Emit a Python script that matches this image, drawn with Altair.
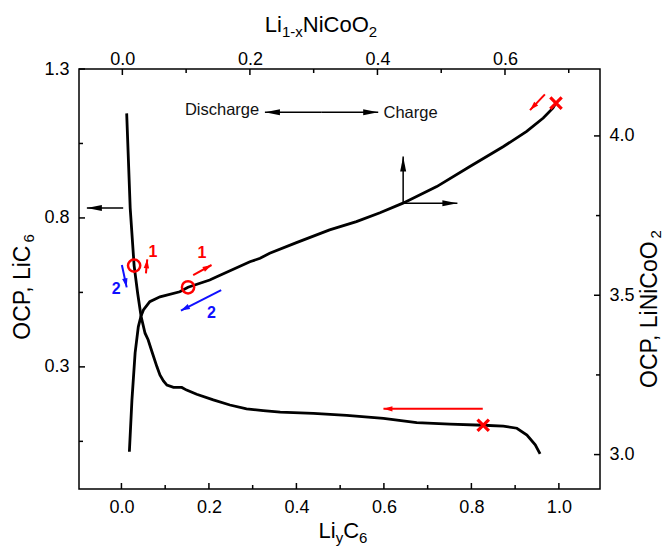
import math
import altair as alt
import pandas as pd

# ---------------- data ----------------
# Negative electrode OCP (LiyC6, bottom x / left y)
anode_x = [0.012, 0.020, 0.029, 0.037, 0.045, 0.054, 0.061, 0.070, 0.081, 0.088, 0.096,
           0.104, 0.119, 0.138, 0.149, 0.172, 0.210, 0.248, 0.286, 0.324, 0.363, 0.439,
           0.515, 0.599, 0.675, 0.751, 0.827, 0.873, 0.904, 0.927, 0.946, 0.957]
anode_y = [1.151, 0.834, 0.640, 0.548, 0.469, 0.413, 0.391, 0.350, 0.301, 0.273, 0.253,
           0.239, 0.231, 0.231, 0.222, 0.208, 0.189, 0.172, 0.159, 0.153, 0.148, 0.144,
           0.137, 0.127, 0.113, 0.108, 0.104, 0.101, 0.094, 0.071, 0.038, 0.008]

# Positive electrode OCP (Li1-xNiCoO2, top x / right y)
cathode_x = [0.011, 0.015, 0.020, 0.025, 0.029, 0.033, 0.043, 0.059, 0.090, 0.103, 0.137,
             0.148, 0.200, 0.216, 0.231, 0.273, 0.325, 0.367, 0.404, 0.440, 0.493, 0.545,
             0.597, 0.634, 0.660, 0.675, 0.680]
cathode_y = [3.009, 3.171, 3.319, 3.401, 3.433, 3.454, 3.480, 3.495, 3.511, 3.525, 3.548,
             3.558, 3.605, 3.616, 3.632, 3.665, 3.705, 3.731, 3.759, 3.789, 3.841, 3.904,
             3.966, 4.014, 4.056, 4.087, 4.103]

# tick values
xb_major = [0.0, 0.2, 0.4, 0.6, 0.8, 1.0]
xb_minor = [0.1, 0.3, 0.5, 0.7, 0.9]
yl_major = [0.3, 0.8, 1.3]
yl_minor = [0.05, 0.55, 1.05]
xt_major = [0.0, 0.2, 0.4, 0.6]
xt_minor = [0.1, 0.3, 0.5, 0.7]
yr_major = [3.0, 3.5, 4.0]
yr_minor = [3.25, 3.75]

# markers
anode_circle_x, anode_circle_y = [0.029], [0.640]
anode_cross_x, anode_cross_y = [0.827], [0.104]
cathode_circle_x, cathode_circle_y = [0.103], [3.525]
cathode_cross_x, cathode_cross_y = [0.680], [4.103]

# annotation arrows (tail -> tip) in LiyC6 / OCP LiC6 coordinates
black_x1 = [0.458, 0.458, 0.004, 0.644, 0.644]
black_y1 = [1.155, 1.155, 0.833, 0.849, 0.849]
black_x2 = [0.328, 0.587, -0.079, 0.644, 0.768]
black_y2 = [1.155, 1.155, 0.833, 1.006, 0.849]

red_x1 = [0.968, 0.826, 0.056, 0.164]
red_y1 = [1.215, 0.159, 0.614, 0.608]
red_x2 = [0.934, 0.599, 0.059, 0.206]
red_y2 = [1.162, 0.159, 0.661, 0.642]

blue_x1 = [0.001, 0.228]
blue_y1 = [0.642, 0.558]
blue_x2 = [0.012, 0.136]
blue_y2 = [0.567, 0.489]

red_lab_x, red_lab_y, red_lab_t = [0.072, 0.184], [0.687, 0.681], ["1", "1"]
blue_lab_x, blue_lab_y, blue_lab_t = [-0.012, 0.206], [0.560, 0.480], ["2", "2"]

note_text = ["Discharge", "Charge"]
note_x = [0.315, 0.599]
note_y = [1.161, 1.151]

# ---------------- layout ----------------
W, H = 521, 420
XB = [-0.097, 1.094]
YL = [-0.11, 1.30]
XT = [-0.068, 0.749]
YR = [2.892, 4.210]
FONT = "Liberation Sans"
RED = "#ff0000"
BLUE = "#1010ff"

sx = W / (XB[1] - XB[0])
sy = H / (YL[1] - YL[0])

xb = alt.Scale(domain=XB, nice=False, zero=False)
yl = alt.Scale(domain=YL, nice=False, zero=False)
xt = alt.Scale(domain=XT, nice=False, zero=False)
yr = alt.Scale(domain=YR, nice=False, zero=False)

lab = dict(ticks=False, domain=False, grid=False, format=".1f",
           labelFont=FONT, labelFontSize=18, labelColor="black", labelFlush=False)
ax_bottom = alt.Axis(orient="bottom", values=xb_major, labelPadding=9, title="", **lab)
ax_left = alt.Axis(orient="left", values=yl_major, labelPadding=10, title="", **lab)
ax_top = alt.Axis(orient="top", values=xt_major, labelPadding=1, title="", **lab)
ax_right = alt.Axis(orient="right", values=yr_major, labelPadding=9, title="", **lab)

one = pd.DataFrame({"k": [0]})


def head_angle(x1, y1, x2, y2):
    dx = (x2 - x1) * sx
    dy = -(y2 - y1) * sy
    return math.degrees(math.atan2(dx, -dy)) % 360


def arrows(x1, y1, x2, y2, color, width, head_path, head_size):
    df = pd.DataFrame({"x1": x1, "y1": y1, "x2": x2, "y2": y2})
    df["ang"] = [head_angle(a, b, c, d) for a, b, c, d in zip(x1, y1, x2, y2)]
    shaft = alt.Chart(df).mark_rule(color=color, strokeWidth=width).encode(
        x=alt.X("x1:Q", scale=xb, axis=None), y=alt.Y("y1:Q", scale=yl, axis=None),
        x2="x2:Q", y2="y2:Q")
    head = alt.Chart(df).mark_point(shape=head_path, filled=True, color=color, size=head_size,
                                    opacity=1, strokeWidth=0).encode(
        x=alt.X("x2:Q", scale=xb, axis=None), y=alt.Y("y2:Q", scale=yl, axis=None),
        angle=alt.Angle("ang:Q", scale=None))
    return [shaft, head]


def ticks(vals, scale, side, length):
    df = pd.DataFrame({"v": vals})
    m = alt.Chart(df).mark_rule(color="black", strokeWidth=1.5)
    if side == "bottom":
        return m.encode(x=alt.X("v:Q", scale=scale, axis=None), y=alt.value(H), y2=alt.value(H - length))
    if side == "top":
        return m.encode(x=alt.X("v:Q", scale=scale, axis=None), y=alt.value(0), y2=alt.value(length))
    if side == "left":
        return m.encode(y=alt.Y("v:Q", scale=scale, axis=None), x=alt.value(0), x2=alt.value(length))
    return m.encode(y=alt.Y("v:Q", scale=scale, axis=None), x=alt.value(W), x2=alt.value(W - length))


AW = {'L': 0.556, 'i': 0.222, 'y': 0.5, 'C': 0.722, '6': 0.556, '1': 0.556, '-': 0.333,
      'x': 0.5, 'N': 0.722, 'o': 0.556, 'O': 0.778, '2': 0.556, 'P': 0.667, ',': 0.278, ' ': 0.278}


def tw(s, size):
    return sum(AW[c] for c in s) * size


def title_layers(pieces, center, base, vertical, F=22, f=15, shift=5):
    total = sum(tw(t, f if sub else F) for t, sub in pieces)
    out, pos = [], 0.0
    for t, sub in pieces:
        size = f if sub else F
        if vertical:
            enc = dict(x=alt.value(base + (shift if sub else 0)), y=alt.value(center + total / 2 - pos))
            ang = 270
        else:
            enc = dict(x=alt.value(center - total / 2 + pos), y=alt.value(base + (shift if sub else 0)))
            ang = 0
        out.append(alt.Chart(one).mark_text(text=t, fontSize=size, font=FONT, align="left",
                                            baseline="alphabetic", angle=ang, color="black").encode(**enc))
        pos += tw(t, size)
    return out


BIG_HEAD = "M0,0L-0.4,2L0.4,2Z"
SMALL_HEAD = "M0,0L-0.6,2L0.6,2Z"
XSHAPE = "M-1,-1L1,1M1,-1L-1,1"

# ---------------- LiyC6 layers ----------------
df_a = pd.DataFrame({"x": anode_x, "y": anode_y, "i": range(len(anode_x))})
anode_line = alt.Chart(df_a).mark_line(color="black", strokeWidth=2.8).encode(
    x=alt.X("x:Q", scale=xb, axis=ax_bottom), y=alt.Y("y:Q", scale=yl, axis=ax_left),
    order="i:Q")

layers = [anode_line,
          ticks(xb_major, xb, "bottom", 6), ticks(xb_minor, xb, "bottom", 4),
          ticks(yl_major, yl, "left", 6), ticks(yl_minor, yl, "left", 4)]
layers += arrows(black_x1, black_y1, black_x2, black_y2, "black", 1.5, BIG_HEAD, 225)
layers += arrows(red_x1, red_y1, red_x2, red_y2, RED, 2, SMALL_HEAD, 81)
layers += arrows(blue_x1, blue_y1, blue_x2, blue_y2, BLUE, 2, SMALL_HEAD, 81)

for i, al in enumerate(["right", "left"]):
    layers.append(alt.Chart(pd.DataFrame({"x": [note_x[i]], "y": [note_y[i]], "t": [note_text[i]]})).mark_text(
        font=FONT, fontSize=16.5, color="#111111", align=al, baseline="middle").encode(
        x=alt.X("x:Q", scale=xb, axis=None), y=alt.Y("y:Q", scale=yl, axis=None), text="t:N"))

for lx, ly, lt, col in [(red_lab_x, red_lab_y, red_lab_t, RED), (blue_lab_x, blue_lab_y, blue_lab_t, BLUE)]:
    layers.append(alt.Chart(pd.DataFrame({"x": lx, "y": ly, "t": lt})).mark_text(
        font=FONT, fontSize=16, fontWeight="bold", color=col, align="center", baseline="middle").encode(
        x=alt.X("x:Q", scale=xb, axis=None), y=alt.Y("y:Q", scale=yl, axis=None), text="t:N"))

layers.append(alt.Chart(pd.DataFrame({"x": anode_circle_x, "y": anode_circle_y})).mark_point(
    shape="circle", filled=False, color=RED, strokeWidth=2.5, size=150, opacity=1).encode(
    x=alt.X("x:Q", scale=xb, axis=None), y=alt.Y("y:Q", scale=yl, axis=None)))
layers.append(alt.Chart(pd.DataFrame({"x": anode_cross_x, "y": anode_cross_y})).mark_point(
    shape=XSHAPE, filled=False, color=RED, strokeWidth=3.2, size=130, opacity=1).encode(
    x=alt.X("x:Q", scale=xb, axis=None), y=alt.Y("y:Q", scale=yl, axis=None)))

layers += title_layers([("Li", False), ("y", True), ("C", False), ("6", True)],
                       center=264, base=469, vertical=False)
layers += title_layers([("OCP, LiC", False), ("6", True)], center=218, base=-49, vertical=True,
                       F=23, shift=4)

# ---------------- Li1-xNiCoO2 layers ----------------
df_c = pd.DataFrame({"x": cathode_x, "y": cathode_y, "i": range(len(cathode_x))})
cathode_line = alt.Chart(df_c).mark_line(color="black", strokeWidth=2.8).encode(
    x=alt.X("x:Q", scale=xt, axis=ax_top), y=alt.Y("y:Q", scale=yr, axis=ax_right),
    order="i:Q")

layers += [cathode_line,
           ticks(xt_major, xt, "top", 6), ticks(xt_minor, xt, "top", 4),
           ticks(yr_major, yr, "right", 6), ticks(yr_minor, yr, "right", 4)]
layers.append(alt.Chart(pd.DataFrame({"x": cathode_circle_x, "y": cathode_circle_y})).mark_point(
    shape="circle", filled=False, color=RED, strokeWidth=2.5, size=150, opacity=1).encode(
    x=alt.X("x:Q", scale=xt, axis=None), y=alt.Y("y:Q", scale=yr, axis=None)))
layers.append(alt.Chart(pd.DataFrame({"x": cathode_cross_x, "y": cathode_cross_y})).mark_point(
    shape=XSHAPE, filled=False, color=RED, strokeWidth=3.2, size=130, opacity=1).encode(
    x=alt.X("x:Q", scale=xt, axis=None), y=alt.Y("y:Q", scale=yr, axis=None)))
layers += title_layers([("Li", False), ("1-x", True), ("NiCoO", False), ("2", True)],
                       center=242, base=-37, vertical=False)
layers += title_layers([("OCP, LiNiCoO", False), ("2", True)], center=240, base=578, vertical=True,
                       F=23, shift=4)

chart = alt.layer(*layers).resolve_scale(x="independent", y="independent").properties(
    width=W, height=H,
    autosize=alt.AutoSizeParams(type="none"),
    padding={"left": 79, "top": 69, "right": 69, "bottom": 60},
).configure_view(stroke="black", strokeWidth=1.5)

chart.save("out.html", embed_options={"renderer": "svg", "actions": False})
